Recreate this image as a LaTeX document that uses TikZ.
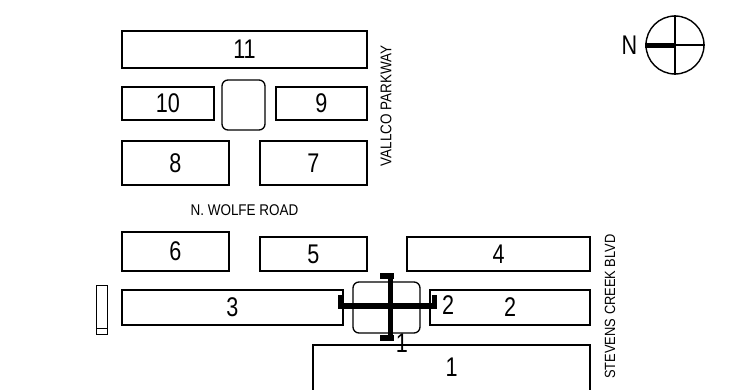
\documentclass[tikz,border=0pt]{standalone}
\usepackage{fontspec}
\setmainfont{Liberation Sans}
\newfontfamily\bldgfont[FakeStretch=0.8]{Liberation Sans}
\newfontfamily\streetfont[FakeStretch=0.87]{Liberation Sans}
\tikzset{
	bldg/.style={draw,line width=1.2pt,inner sep=0pt,font=\bldgfont\fontsize{27}{27}\selectfont},
	court/.style={draw,line width=1.3pt,rounded corners=6pt,inner sep=0pt},
	street/.style={font=\streetfont\fontsize{15.5}{15.5}\selectfont},
	biglabel/.style={font=\bldgfont\fontsize{27}{27}\selectfont}
}
\begin{document}
\begin{tikzpicture}[x=1pt,y=-1pt]
\useasboundingbox (0,0) rectangle (730,389);
\clip (0,0) rectangle (730,389);
\node[bldg,minimum width=245pt,minimum height=37pt] (11) at (244.5,49.5) {11};
\node[bldg,minimum width=92pt,minimum height=33pt] (10) at (168,103.5) {10};
\node[bldg,minimum width=91pt,minimum height=33pt] (9) at (321.5,103.5) {9};
\node[court,minimum width=43pt,minimum height=50pt] (courtn) at (243.5,105) {};
\node[bldg,minimum width=107pt,minimum height=44pt] (8) at (175.5,163) {8};
\node[bldg,minimum width=107pt,minimum height=44pt] (7) at (313.5,163) {7};
\node[bldg,minimum width=107pt,minimum height=39pt] (6) at (175.5,251.5) {6};
\node[bldg,minimum width=107pt,minimum height=34pt] (5) at (313.5,254) {5};
\node[bldg,minimum width=183pt,minimum height=34pt] (4) at (498.5,254) {4};
\node[bldg,minimum width=221pt,minimum height=35pt] (3) at (232.5,307.5) {3};
\node[bldg,minimum width=160pt,minimum height=35pt] (2) at (510,307.5) {2};
\node[court,minimum width=67pt,minimum height=51pt] (courts) at (386.5,307.5) {};
\node[draw,line width=1.2pt,minimum width=277pt,minimum height=60pt,inner sep=0pt] (1) at (451.5,375) {};
\node[biglabel] (one) at (451.5,367) {1};
\node[draw,line width=1pt,minimum width=11pt,minimum height=49pt,inner sep=0pt] (kiosk) at (101.5,309.5) {};
\draw[line width=.7pt] (96,328)--(107,328);
% streets
\node[street] (wolfe) at (244.5,210) {N. WOLFE ROAD};
\node[street,rotate=90] (vallco) at (386,106) {VALLCO PARKWAY};
\node[street,rotate=90,font=\streetfont\fontsize{14.8}{14.8}\selectfont] (stevens) at (610,306.5) {STEVENS CREEK BLVD};
% entrances
\coordinate (w) at (338,306);
\coordinate (e) at (437,306);
\coordinate (n) at (390.5,273);
\coordinate (s) at (390.5,341);
\draw[line width=6pt] (w)--(e);
\draw[line width=5pt] (n)--(s);
\draw[line width=6pt] (380,276)--(394,276);
\draw[line width=6pt] (380,338)--(394,338);
\draw[line width=5pt] (340.5,295)--(340.5,309);
\draw[line width=5pt] (434.5,295)--(434.5,309);
\node[biglabel] (lone) at (402,343) {1};
\node[biglabel] (ltwo) at (448,305) {2};
% north
\node[circle,draw,line width=1.4pt,minimum size=58pt,inner sep=0pt] (comp) at (675,45) {};
\node[biglabel] (nlabel) at (629.5,45) {N};
\draw[line width=5pt] (comp.west)--(comp.center);
\draw[line width=1.3pt] (comp.center)--(comp.east);
\draw[line width=1.3pt] (comp.north)--(comp.south);
\end{tikzpicture}
\end{document}
